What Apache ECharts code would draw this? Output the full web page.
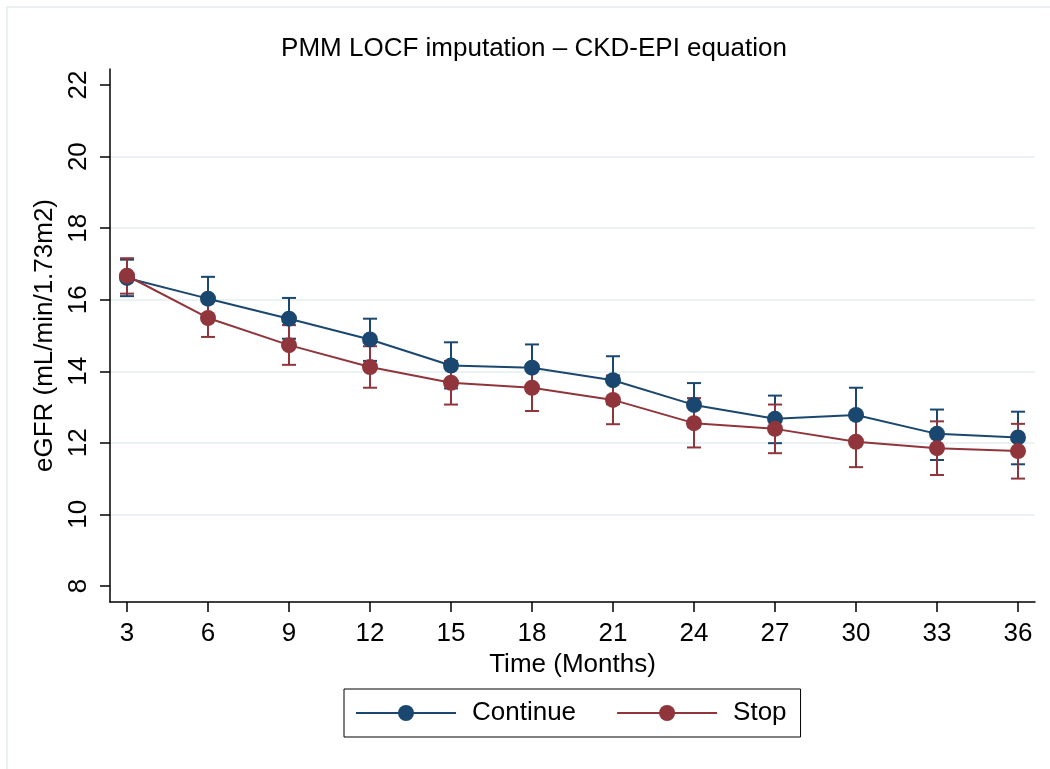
<!DOCTYPE html>
<html>
<head>
<meta charset="utf-8">
<script src="https://cdn.jsdelivr.net/npm/echarts@6/dist/echarts.min.js"></script>
<style>html,body{margin:0;padding:0;background:#fff}#c{width:1050px;height:769px}</style>
</head>
<body>
<div id="c"></div>
<script>
const months = [3, 6, 9, 12, 15, 18, 21, 24, 27, 30, 33, 36];
const continueMean  = [16.61, 16.03, 15.47, 14.89, 14.16, 14.10, 13.75, 13.06, 12.67, 12.78, 12.25, 12.15];
const continueLower = [16.10, 15.42, 14.91, 14.29, 13.52, 13.45, 13.08, 12.45, 11.99, 12.02, 11.52, 11.40];
const continueUpper = [17.12, 16.64, 16.05, 15.47, 14.81, 14.75, 14.42, 13.67, 13.32, 13.54, 12.93, 12.87];
const stopMean  = [16.67, 15.49, 14.73, 14.12, 13.68, 13.54, 13.20, 12.55, 12.39, 12.03, 11.85, 11.77];
const stopLower = [16.17, 14.96, 14.18, 13.54, 13.07, 12.89, 12.52, 11.87, 11.71, 11.32, 11.10, 11.00];
const stopUpper = [17.16, 16.02, 15.29, 14.70, 14.29, 14.19, 13.88, 13.25, 13.07, 12.74, 12.60, 12.53];
const xTicks = [3, 6, 9, 12, 15, 18, 21, 24, 27, 30, 33, 36];
const yTicks = [8, 10, 12, 14, 16, 18, 20, 22];
const yGrid = [10, 12, 14, 16, 18, 20];

const BLUE = '#1a476f', RED = '#90353b';
const FONT = 'Liberation Sans, Arial, sans-serif';

function errSeries(name, lower, upper, color) {
  return {
    type: 'custom', name: name + '_ci', silent: true, z: 1,
    data: months.map((m, i) => [m, lower[i], upper[i]]),
    renderItem: function (params, api) {
      const lo = api.coord([api.value(0), api.value(1)]);
      const hi = api.coord([api.value(0), api.value(2)]);
      const w = 7;
      const st = { stroke: color, lineWidth: 2, fill: null };
      return { type: 'group', children: [
        { type: 'line', shape: { x1: lo[0], y1: lo[1], x2: hi[0], y2: hi[1] }, style: st },
        { type: 'line', shape: { x1: lo[0] - w, y1: lo[1], x2: lo[0] + w, y2: lo[1] }, style: st },
        { type: 'line', shape: { x1: hi[0] - w, y1: hi[1], x2: hi[0] + w, y2: hi[1] }, style: st }
      ]};
    }
  };
}

const chart = echarts.init(document.getElementById('c'), null, { renderer: 'canvas' });
chart.setOption({
  animation: false,
  backgroundColor: '#fff',
  textStyle: { fontFamily: FONT },
  graphic: [{ type: 'rect', shape: { x: 7, y: 7, width: 1200, height: 1000 }, style: { fill: null, stroke: '#eaf2f3', lineWidth: 2 }, silent: true }],
  title: {
    text: 'PMM LOCF imputation \u2013 CKD-EPI equation',
    left: 534, top: 36, textAlign: 'center', padding: 0,
    textStyle: { fontFamily: FONT, fontSize: 26, fontWeight: 'normal', color: '#000' }
  },
  grid: { left: 110, right: 15, top: 69, bottom: 167, containLabel: false },
  xAxis: {
    type: 'value', min: 2.37, max: 36.63,
    name: 'Time (Months)', nameLocation: 'middle', nameGap: 46,
    nameTextStyle: { fontFamily: FONT, fontSize: 26, color: '#000' },
    axisLine: { show: true, onZero: false, lineStyle: { color: '#000', width: 1.5 } },
    axisTick: { show: true, length: 10, lineStyle: { color: '#000', width: 1.5 }, customValues: xTicks },
    axisLabel: { fontFamily: FONT, fontSize: 26, color: '#000', margin: 19, customValues: xTicks },
    splitLine: { show: false }
  },
  yAxis: {
    type: 'value', min: 7.55, max: 22.45,
    name: 'eGFR (mL/min/1.73m2)', nameLocation: 'middle', nameGap: 39,
    nameTextStyle: { fontFamily: FONT, fontSize: 26, color: '#000' },
    axisLine: { show: true, onZero: false, lineStyle: { color: '#000', width: 1.5 } },
    axisTick: { show: true, length: 10, lineStyle: { color: '#000', width: 1.5 }, customValues: yTicks },
    axisLabel: { fontFamily: FONT, fontSize: 26, color: '#000', margin: 18, rotate: 90, customValues: yTicks },
    splitLine: { show: false }
  },
  legend: {
    left: 344, top: 689, orient: 'horizontal',
    data: ['Continue', 'Stop'],
    itemWidth: 100, itemHeight: 20, itemGap: 40,
    borderColor: '#000', borderWidth: 1, borderRadius: 0,
    padding: [11, 14, 11, 11],
    textStyle: { fontFamily: FONT, fontSize: 26, color: '#000', padding: [0, 0, 0, 11] }
  },
  series: [
    errSeries('Continue', continueLower, continueUpper, BLUE),
    errSeries('Stop', stopLower, stopUpper, RED),
    {
      type: 'line', name: 'Continue', z: 3,
      data: months.map((m, i) => [m, continueMean[i]]),
      symbol: 'circle', symbolSize: 16, showSymbol: true,
      lineStyle: { color: BLUE, width: 2 }, itemStyle: { color: BLUE },
      markLine: {
        silent: true, symbol: 'none', label: { show: false }, z: 0,
        lineStyle: { color: '#eaf2f3', width: 2, type: 'solid' },
        data: yGrid.map(v => ({ yAxis: v }))
      }
    },
    {
      type: 'line', name: 'Stop', z: 4,
      data: months.map((m, i) => [m, stopMean[i]]),
      symbol: 'circle', symbolSize: 16, showSymbol: true,
      lineStyle: { color: RED, width: 2 }, itemStyle: { color: RED }
    }
  ]
});
</script>
</body>
</html>
